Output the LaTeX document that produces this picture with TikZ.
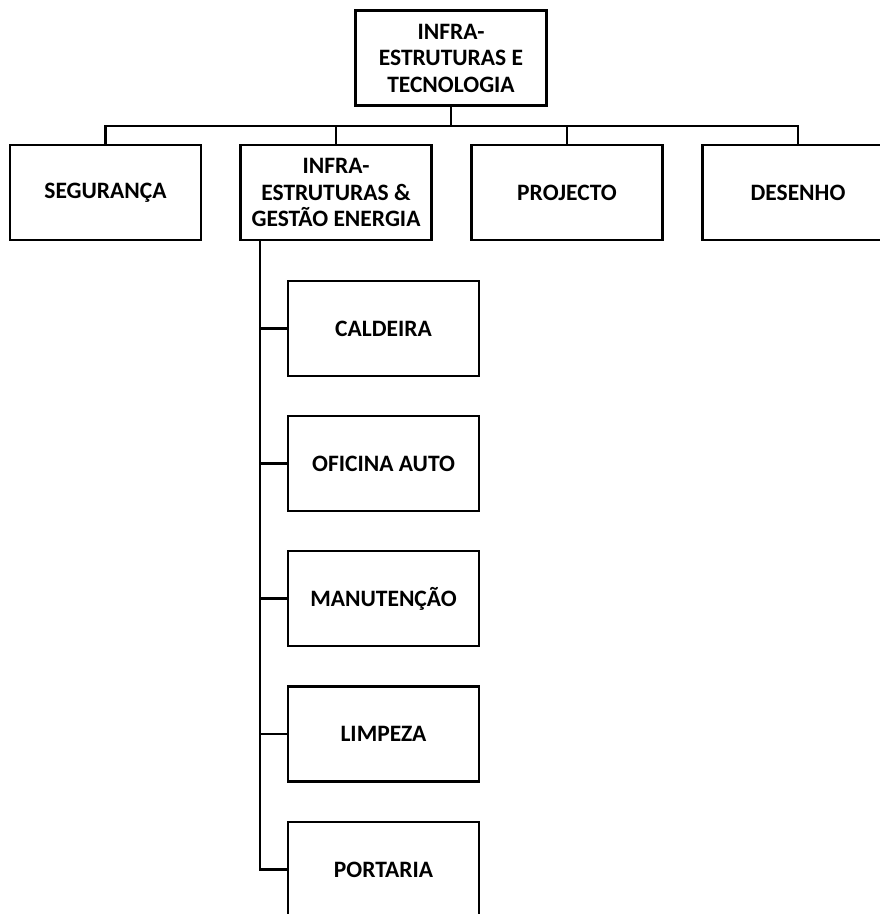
\documentclass[tikz,border=0pt]{standalone}
\usepackage{fontspec}
\setmainfont{Carlito}
\begin{document}
\begin{tikzpicture}[x=1pt,y=-1pt,
  box/.style={draw, line width=2.7pt, rectangle, minimum width=191pt, minimum height=95pt,
    inner sep=0pt, align=center, font=\fontsize{23.5}{26.5}\selectfont\bfseries},
  conn/.style={line width=2.5pt}]
\clip (0,0) rectangle (880,914);
\useasboundingbox (0,0) rectangle (880,914);
\node[box] (top) at (451,58) {INFRA-\\ESTRUTURAS E\\TECNOLOGIA};
\node[box] (seg) at (105.5,192.5) {SEGURANÇA};
\node[box] (inf) at (336,192.5) {INFRA-\\ESTRUTURAS \&\\GESTÃO ENERGIA};
\node[box] (proj) at (567,192.5) {PROJECTO};
\node[box] (des) at (798,192.5) {DESENHO};
\node[box] (cal) at (383.5,328.5) {CALDEIRA};
\node[box] (ofi) at (383.5,463.5) {OFICINA AUTO};
\node[box] (man) at (383.5,598.5) {MANUTENÇÃO};
\node[box] (lim) at (383.5,734) {LIMPEZA};
\node[box] (por) at (383.5,869.5) {PORTARIA};
\coordinate (bus) at (451,126);
\coordinate (trunk) at (260,240);
\draw[conn] (top.south) -- (bus);
\draw[conn] (seg.north) |- (bus) -| (des.north);
\draw[conn] (inf.north) -- (inf.north |- bus);
\draw[conn] (proj.north) -- (proj.north |- bus);
\draw[conn] (trunk) |- (por.west);
\draw[conn] (trunk |- cal.west) -- (cal.west);
\draw[conn] (trunk |- ofi.west) -- (ofi.west);
\draw[conn] (trunk |- man.west) -- (man.west);
\draw[conn] (trunk |- lim.west) -- (lim.west);
\end{tikzpicture}
\end{document}
